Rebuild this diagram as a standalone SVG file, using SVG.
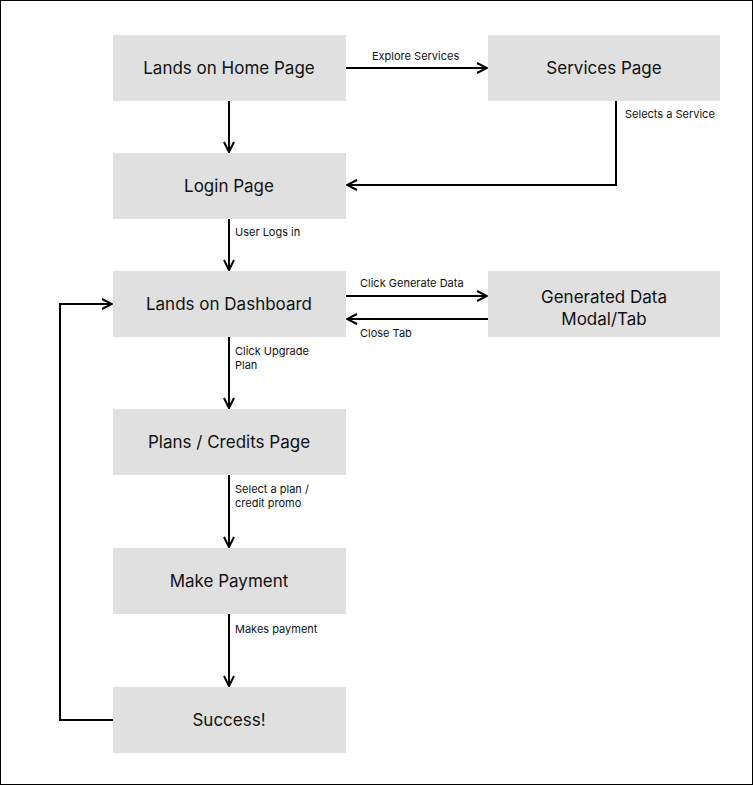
<svg xmlns="http://www.w3.org/2000/svg" width="753" height="785" viewBox="0 0 753 785">
<style>
.n{fill:#e0e0e0}
.t{font-family:Inter,"Liberation Sans",sans-serif;font-size:17px;fill:#111;text-anchor:middle;dominant-baseline:central}
.l{font-family:Inter,"Liberation Sans",sans-serif;font-size:11px;fill:#111}
.c{fill:none;stroke:#000;stroke-width:2}
</style>
<defs><marker id="a" viewBox="0 0 12 12" refX="11" refY="6" markerWidth="12" markerHeight="12" markerUnits="userSpaceOnUse" orient="auto"><path d="M1,1 L11,6 L1,11" fill="none" stroke="#000" stroke-width="2"/></marker></defs>
<rect x="0.5" y="0.5" width="752" height="784" fill="#fff" stroke="#000"/>
<g id="home"><rect class="n" x="113" y="35" width="233" height="66"/><text class="t" x="229" y="68">Lands on Home Page</text></g>
<g id="services"><rect class="n" x="488" y="35" width="232" height="66"/><text class="t" x="604" y="68">Services Page</text></g>
<g id="login"><rect class="n" x="113" y="153" width="233" height="66"/><text class="t" x="229" y="186">Login Page</text></g>
<g id="dashboard"><rect class="n" x="113" y="271" width="233" height="66"/><text class="t" x="229" y="304">Lands on Dashboard</text></g>
<g id="generated"><rect class="n" x="488" y="271" width="232" height="66"/><text class="t" x="604" y="297">Generated Data</text><text class="t" x="604" y="319">Modal/Tab</text></g>
<g id="plans"><rect class="n" x="113" y="409" width="233" height="66"/><text class="t" x="229" y="442">Plans / Credits Page</text></g>
<g id="payment"><rect class="n" x="113" y="548" width="233" height="66"/><text class="t" x="229" y="581">Make Payment</text></g>
<g id="success"><rect class="n" x="113" y="687" width="233" height="66"/><text class="t" x="229" y="720">Success!</text></g>
<g id="connectors">
<path class="c" d="M346,68 H487" marker-end="url(#a)"/>
<path class="c" d="M229,101 V152" marker-end="url(#a)"/>
<path class="c" d="M616,101 V185 H347" marker-end="url(#a)"/>
<path class="c" d="M229,219 V270" marker-end="url(#a)"/>
<path class="c" d="M346,296 H487" marker-end="url(#a)"/>
<path class="c" d="M488,319 H347" marker-end="url(#a)"/>
<path class="c" d="M229,337 V408" marker-end="url(#a)"/>
<path class="c" d="M229,475 V547" marker-end="url(#a)"/>
<path class="c" d="M229,614 V686" marker-end="url(#a)"/>
<path class="c" d="M113,720 H60 V304 H112" marker-end="url(#a)"/>
<text class="l" x="372" y="60">Explore Services</text>
<text class="l" x="625" y="118">Selects a Service</text>
<text class="l" x="235" y="236">User Logs in</text>
<text class="l" x="360" y="287">Click Generate Data</text>
<text class="l" x="360" y="337">Close Tab</text>
<text class="l" x="235" y="355">Click Upgrade</text>
<text class="l" x="235" y="369">Plan</text>
<text class="l" x="235" y="493">Select a plan /</text>
<text class="l" x="235" y="507">credit promo</text>
<text class="l" x="235" y="633">Makes payment</text>
</g>
</svg>
